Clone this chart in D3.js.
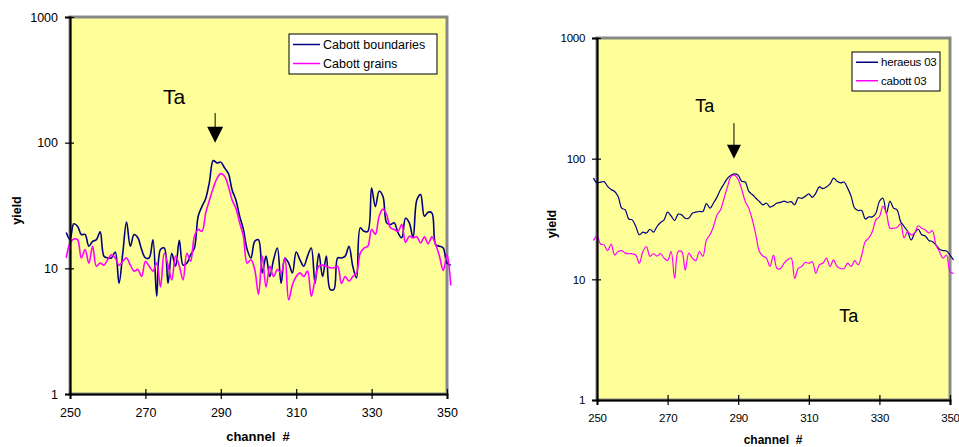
<!DOCTYPE html>
<html>
<head>
<meta charset="utf-8">
<script src="https://cdn.jsdelivr.net/npm/d3@7"></script>
<style>
  body { margin: 0; background: #fff; }
  svg text { font-family: Arial, "Liberation Sans", sans-serif; }
</style>
</head>
<body>
<div id="chart"></div>
<script>
// channels 249..351
const channels = d3.range(249, 352);

// left panel
const cabottBoundaries = [
  19.3, 17.0, 22.6, 21.6, 18.6, 18.6, 15.0, 16.4, 16.9, 19.5,
  12.5, 12.1, 12.1, 13.5, 7.6, 13.2, 23.4, 15.0, 18.6, 17.5,
  14.1, 12.1, 12.1, 16.9, 6.0, 14.1, 14.5, 7.6, 13.2, 10.4,
  16.7, 10.6, 11.0, 12.8, 14.5, 26, 31, 36, 49, 72,
  69, 70, 63, 57, 42, 35, 26, 20.4, 14.1, 12.1,
  16.4, 16.9, 9.2, 12.5, 8.6, 11.7, 14.5, 7.6, 12.1, 11.0,
  9.2, 13.5, 11.7, 10.4, 12.5, 14.5, 7.6, 13.2, 8.6, 12.5,
  6.8, 6.8, 12.1, 12.1, 12.5, 15.0, 10.4, 8.4, 21, 19.7,
  19.7, 43.6, 31, 41, 37.5, 23, 22.3, 23, 19.2, 17.5,
  25, 23, 17.5, 35, 38.6, 26, 28, 27.6, 15.4, 15.0,
  14.5, 11.0, 10.6
];
const cabottGrains = [
  12.1, 15.9, 17.1, 16.9, 12.1, 14.1, 11.0, 15.0, 10.4, 11.0,
  10.6, 11.7, 12.8, 12.1, 10.6, 11.4, 12.1, 10.6, 9.5, 9.8,
  8.6, 11.4, 10.4, 9.5, 11.0, 7.1, 13.2, 10.6, 8.1, 12.5,
  10.4, 8.1, 13.2, 11.4, 18, 20.4, 19.7, 27.5, 35, 43.6,
  52, 56.7, 54, 45, 35, 30, 23, 18, 11.0, 11.7,
  9.8, 6.2, 12.5, 7.1, 10.4, 8.6, 9.8, 9.2, 12.1, 5.6,
  7.4, 8.6, 9.2, 8.6, 9.5, 6.0, 8.1, 10.4, 10.6, 10.4,
  10.1, 10.1, 10.4, 7.6, 8.6, 7.9, 8.6, 9.2, 13.2, 14.5,
  15.0, 20.4, 18.6, 26, 29.6, 26.7, 21, 20.4, 19.7, 22.3,
  16.1, 18, 17.5, 17.8, 15.9, 17.8, 15.7, 17.8, 15.4, 12.5,
  9.6, 12.8, 7.3
];

// right panel
const heraeus03 = [
  69, 63, 64, 64.5, 59, 55.5, 53.5, 48.5, 38.9, 37.7,
  31.6, 31.1, 27.4, 23.4, 24.6, 24.2, 26, 24.6, 27.4, 29.6,
  31.1, 36, 33.5, 30.7, 34.7, 34.2, 32.1, 32.1, 35.3, 36,
  36.5, 36.5, 42.4, 38.9, 42.9, 48, 55.5, 62, 69, 73,
  74.8, 73, 65, 64, 53.5, 50.5, 47, 44.2, 41.4, 42.9,
  39.7, 40.8, 42.9, 43.4, 44.5, 43.4, 44, 41.4, 47.4, 46.9,
  48.7, 51, 47.8, 51.9, 58.3, 56.5, 58.3, 61.7, 69, 65,
  63, 64, 57, 48.7, 38.9, 37.2, 37.2, 31.6, 32.9, 32.9,
  35.3, 44.2, 47, 35.3, 44.5, 38.9, 37.7, 30.2, 27.4, 24.9,
  21.2, 24.2, 26, 23.4, 22.9, 21, 20.6, 19.3, 17.8, 17.3,
  17.2, 15.9, 14.5
];
const cabott03 = [
  21, 22.9, 19.6, 19.3, 17.3, 19.6, 15.9, 17, 17.3, 16.5,
  16.3, 16.3, 15.9, 13.6, 17, 18.7, 15.5, 16.3, 15.6, 16.3,
  15, 14.3, 17, 10.2, 17, 17, 11.9, 16.5, 15, 14.3,
  17, 15.5, 21.2, 23.4, 27.4, 34.2, 37.7, 47, 59, 71.3,
  73, 67.1, 55.5, 44.2, 38.9, 31.1, 23.4, 17, 15.6, 15,
  12.8, 15.9, 12.3, 12.3, 13.6, 14.5, 15, 10.2, 12.3, 12.8,
  13.8, 13.6, 14, 11.2, 13.2, 13.6, 15, 12.8, 14.5, 12.8,
  12.3, 12.3, 13.6, 12.8, 14.3, 13.2, 15.9, 20.6, 22, 24.9,
  31.1, 33, 40.2, 35.3, 26.5, 26.5, 26.9, 28.8, 22, 24.9,
  23.4, 24.2, 27.8, 26.5, 25.7, 24.2, 25.3, 19.3, 17, 15,
  15.9, 11.6, 11.2
];

const xTicks = [250, 270, 290, 310, 330, 350];
const yTicks = [1, 10, 100, 1000];

const svg = d3.select('#chart').append('svg')
  .attr('width', 959)
  .attr('height', 447);

const panels = [
  {
    left: 70, top: 17, right: 447, bottom: 394,
    tickFont: 12.5, tickSpacing: 0, lineWidth: 1.6,
    series: [
      { name: 'Cabott boundaries', values: cabottBoundaries, color: '#000080' },
      { name: 'Cabott grains', values: cabottGrains, color: '#ff00ff' }
    ],
    legend: { x: 289, y: 34, w: 148, h: 40, font: 12.5, spacing: 0, line: 27 },
    labels: [{ text: 'Ta', ch: 274.7, v: 203, size: 21 }],
    arrow: { ch: 288.5, from: 172, to: 100, head: 8 },
    xTitle: { x: 258, y: 441, size: 13 },
    yTitle: { x: 21, size: 12.5 }
  },
  {
    left: 597, top: 38, right: 950, bottom: 400,
    tickFont: 11.5, tickSpacing: -0.3, lineWidth: 1.2,
    series: [
      { name: 'heraeus 03', values: heraeus03, color: '#000080' },
      { name: 'cabott 03', values: cabott03, color: '#ff00ff' }
    ],
    legend: { x: 852, y: 52, w: 88, h: 39, font: 11.5, spacing: -0.2, line: 22 },
    labels: [
      { text: 'Ta', ch: 277.8, v: 243, size: 18 },
      { text: 'Ta', ch: 318.6, v: 4.4, size: 18 }
    ],
    arrow: { ch: 288.8, from: 197, to: 100, head: 7 },
    xTitle: { x: 773, y: 444, size: 12 },
    yTitle: { x: 556, size: 12.5 }
  }
];

panels.forEach(p => {
  const x = d3.scaleLinear().domain([250, 350]).range([p.left, p.right]);
  const y = d3.scaleLog().domain([1, 1000]).range([p.bottom, p.top]);
  const g = svg.append('g');

  // plot area with grey Excel-ish frame
  g.append('rect')
    .attr('x', p.left).attr('y', p.top)
    .attr('width', p.right - p.left).attr('height', p.bottom - p.top)
    .attr('fill', '#ffff99')
    .attr('stroke', '#888')
    .attr('stroke-width', 3);

  const line = d3.line()
    .x((d, i) => x(channels[i]))
    .y(d => y(d))
    .curve(d3.curveCatmullRom.alpha(0.5));

  p.series.forEach(s => {
    g.append('path')
      .datum(s.values)
      .attr('fill', 'none')
      .attr('stroke', s.color)
      .attr('stroke-width', p.lineWidth)
      .attr('stroke-linejoin', 'round')
      .attr('d', line);
  });

  // axes (ticks cross the axis line)
  const yAxis = g.append('g')
    .attr('transform', `translate(${p.left},0)`)
    .call(d3.axisLeft(y).tickValues(yTicks).tickFormat(d3.format('d')).tickSize(5).tickPadding(7));
  yAxis.selectAll('.tick line').attr('x1', 4);
  const xAxis = g.append('g')
    .attr('transform', `translate(0,${p.bottom})`)
    .call(d3.axisBottom(x).tickValues(xTicks).tickSize(5).tickPadding(9));
  xAxis.selectAll('.tick line').attr('y1', -5);
  [yAxis, xAxis].forEach(a => {
    a.select('.domain').attr('stroke', '#000').attr('stroke-width', 2);
    a.selectAll('.tick line').attr('stroke', '#000').attr('stroke-width', 1.2);
    a.selectAll('text')
      .attr('font-family', 'Arial, "Liberation Sans", sans-serif')
      .attr('font-size', p.tickFont)
      .attr('letter-spacing', p.tickSpacing)
      .attr('fill', '#000');
  });

  // axis titles
  g.append('text')
    .attr('x', p.xTitle.x).attr('y', p.xTitle.y)
    .attr('text-anchor', 'middle')
    .attr('font-weight', 'bold')
    .attr('font-size', p.xTitle.size)
    .attr('xml:space', 'preserve')
    .text('channel  #');
  g.append('text')
    .attr('transform', `translate(${p.yTitle.x},${(p.top + p.bottom) / 2 + 5}) rotate(-90)`)
    .attr('text-anchor', 'middle')
    .attr('font-weight', 'bold')
    .attr('font-size', p.yTitle.size)
    .text('yield');

  // legend
  const L = p.legend;
  const lg = g.append('g');
  lg.append('rect')
    .attr('x', L.x).attr('y', L.y).attr('width', L.w).attr('height', L.h)
    .attr('fill', '#fff').attr('stroke', '#000').attr('stroke-width', 1);
  p.series.forEach((s, i) => {
    const cy = L.y + L.h * (i + 0.5) / 2 + (i === 0 ? 0.5 : -0.5);
    lg.append('line')
      .attr('x1', L.x + 4).attr('x2', L.x + 4 + L.line)
      .attr('y1', cy).attr('y2', cy)
      .attr('stroke', s.color).attr('stroke-width', 1.5);
    lg.append('text')
      .attr('x', L.x + 7 + L.line).attr('y', cy + L.font * 0.35)
      .attr('font-size', L.font)
      .attr('letter-spacing', L.spacing)
      .text(s.name);
  });

  // annotations
  p.labels.forEach(t => {
    g.append('text')
      .attr('x', x(t.ch)).attr('y', y(t.v))
      .attr('font-size', t.size)
      .text(t.text);
  });
  const A = p.arrow;
  const ax = x(A.ch), tip = y(A.to);
  const headTop = tip - A.head * 2;
  g.append('line')
    .attr('x1', ax).attr('x2', ax)
    .attr('y1', y(A.from)).attr('y2', headTop + 1)
    .attr('stroke', '#000').attr('stroke-width', 1);
  g.append('path')
    .attr('d', `M${ax - A.head},${headTop}L${ax + A.head},${headTop}L${ax},${tip}Z`)
    .attr('fill', '#000');
});
</script>
</body>
</html>
